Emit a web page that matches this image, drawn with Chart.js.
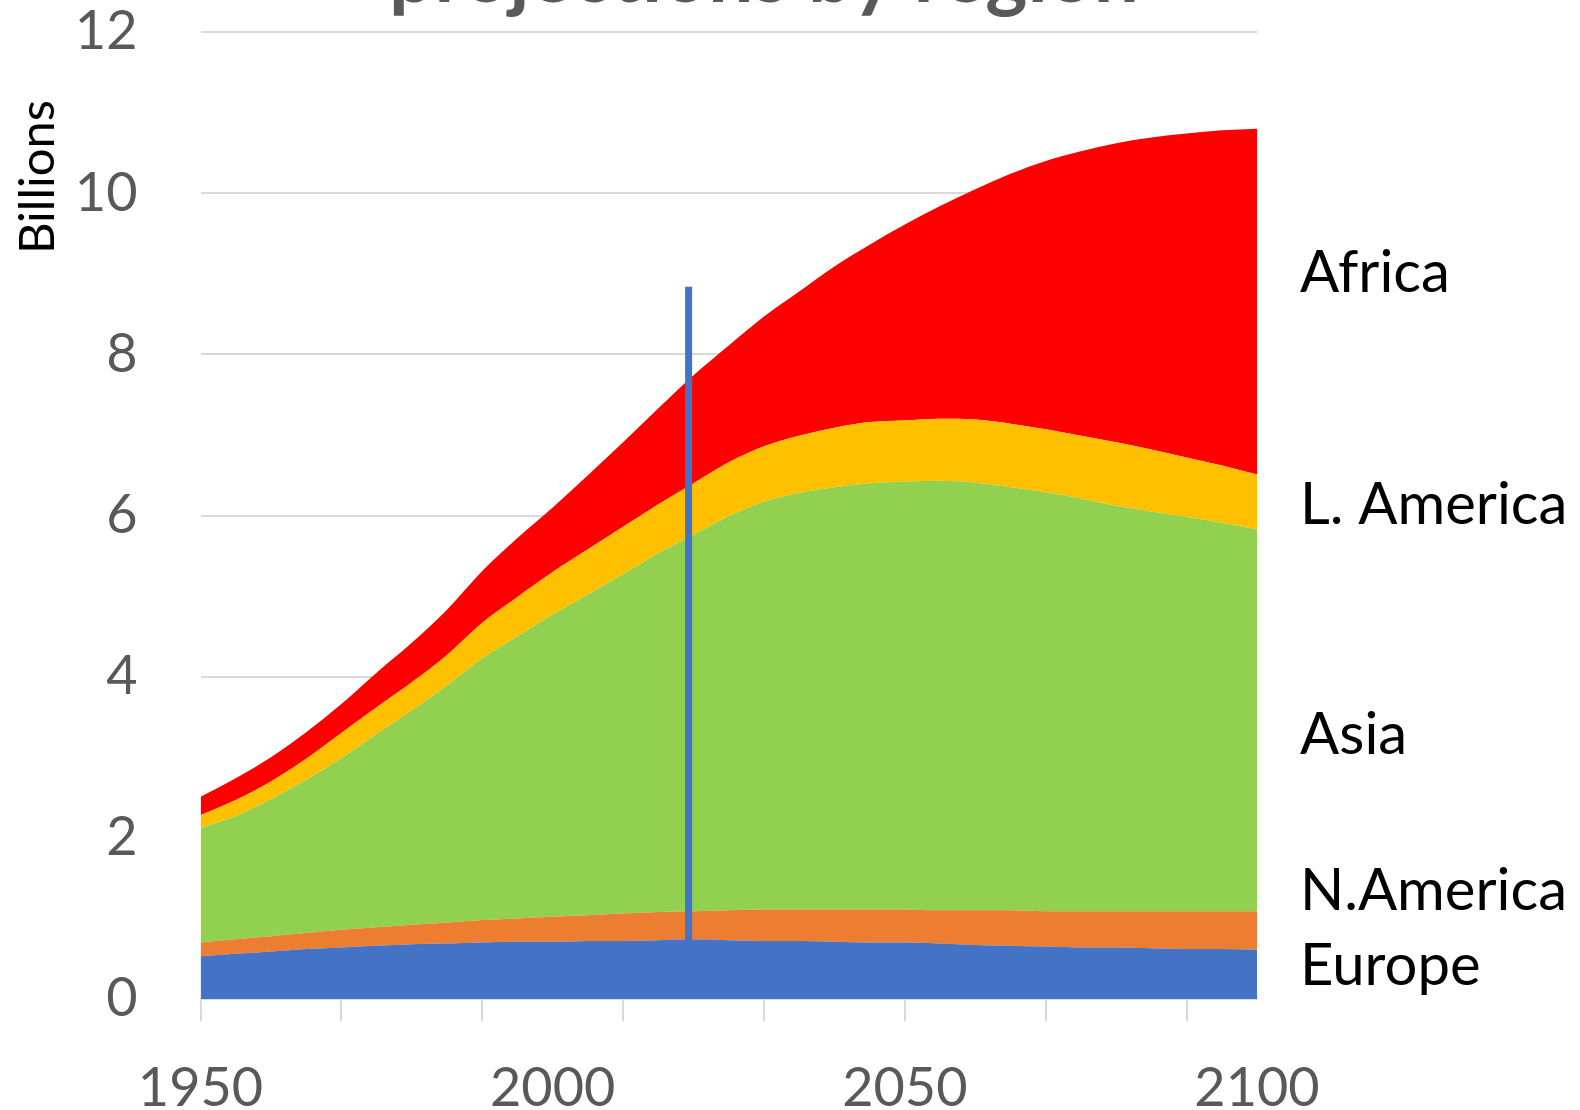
<!DOCTYPE html>
<html>
<head>
<meta charset="utf-8">
<title>Population projections by region</title>
<script src="https://cdn.jsdelivr.net/npm/chart.js@4.4.1/dist/chart.umd.min.js"></script>
<style>
  html, body { margin: 0; padding: 0; background: #fff; }
  #wrap { width: 1580px; height: 1110px; position: relative; overflow: hidden; }
</style>
</head>
<body>
<div id="wrap"><canvas id="chartCanvas" width="1580" height="1110"></canvas></div>
<script>
// --- data (billions) ---
const years = [1950, 1955, 1960, 1965, 1970, 1975, 1980, 1985, 1990, 1995,
               2000, 2005, 2010, 2015, 2020, 2025, 2030, 2035, 2040, 2045,
               2050, 2055, 2060, 2065, 2070, 2075, 2080, 2085, 2090, 2095, 2100];

const europe = [0.53, 0.56, 0.59, 0.62, 0.64, 0.66, 0.68, 0.69, 0.70, 0.71,
                0.71, 0.72, 0.72, 0.73, 0.74, 0.73, 0.72, 0.72, 0.71, 0.70,
                0.70, 0.69, 0.67, 0.66, 0.65, 0.64, 0.64, 0.63, 0.62, 0.62, 0.61];

const northAmerica = [0.17, 0.18, 0.19, 0.20, 0.22, 0.23, 0.24, 0.26, 0.28, 0.29,
                      0.31, 0.32, 0.34, 0.35, 0.35, 0.37, 0.39, 0.39, 0.40, 0.41,
                      0.41, 0.41, 0.43, 0.44, 0.44, 0.45, 0.45, 0.46, 0.47, 0.47, 0.48];

const asia = [1.42, 1.53, 1.70, 1.90, 2.13, 2.40, 2.66, 2.94, 3.25, 3.50,
              3.75, 3.98, 4.21, 4.45, 4.67, 4.89, 5.06, 5.17, 5.24, 5.29,
              5.31, 5.33, 5.31, 5.25, 5.20, 5.12, 5.03, 4.96, 4.89, 4.82, 4.74];

const latinAmerica = [0.16, 0.20, 0.22, 0.26, 0.31, 0.33, 0.35, 0.38, 0.44, 0.49,
                      0.53, 0.56, 0.59, 0.61, 0.64, 0.67, 0.69, 0.71, 0.74, 0.76,
                      0.76, 0.77, 0.78, 0.79, 0.78, 0.78, 0.79, 0.77, 0.74, 0.71, 0.68];

const africa = [0.23, 0.27, 0.30, 0.33, 0.36, 0.43, 0.49, 0.56, 0.64, 0.73,
                0.80, 0.92, 1.05, 1.19, 1.34, 1.45, 1.61, 1.79, 2.00, 2.20,
                2.43, 2.64, 2.86, 3.10, 3.33, 3.53, 3.71, 3.87, 4.02, 4.16, 4.29];

// "today" marker
const markerYear = 2019.3;
const markerRange = [0, 8.84];

const regionNames = ["Europe", "N.America", "Asia", "L. America", "Africa"];
const regionColors = ["#4472C4", "#ED7D31", "#92D050", "#FFC000", "#FF0000"];
const chartTitle = "projections by region";
const axisTitle = "Billions";

// --- helpers ---
const GREY = "#595959";
const GRID = "#d9d9d9";
const FONT = "Lato, 'Open Sans', sans-serif";

const series = [europe, northAmerica, asia, latinAmerica, africa];

const areaSets = series.map((vals, i) => ({
  label: regionNames[i],
  data: years.map((yr, j) => ({ x: yr, y: vals[j] })),
  backgroundColor: regionColors[i],
  borderColor: regionColors[i],
  borderWidth: 0,
  pointRadius: 0,
  fill: i === 0 ? "origin" : "-1",
  cubicInterpolationMode: "monotone",
  order: 1
}));

const markerSet = {
  label: "marker",
  data: markerRange.map(v => ({ x: markerYear, y: v })),
  borderColor: "#4472C4",
  borderWidth: 7,
  pointRadius: 0,
  fill: false,
  stack: "marker",
  order: 0
};

// labels beside the chart, plus title and axis title
const textPlugin = {
  id: "freeText",
  afterDraw(chart) {
    const ctx = chart.ctx;
    ctx.save();

    ctx.fillStyle = GREY;
    ctx.font = "bold 80px " + FONT;
    ctx.textAlign = "center";
    ctx.textBaseline = "alphabetic";
    ctx.fillText(chartTitle, 764, 2);

    ctx.fillStyle = "#000";
    ctx.font = "58px " + FONT;
    ctx.textAlign = "left";
    const rightLabels = [
      ["Africa", 292], ["L. America", 524], ["Asia", 754],
      ["N.America", 910], ["Europe", 985]
    ];
    rightLabels.forEach(([t, y]) => ctx.fillText(t, 1300, y));

    ctx.font = "49px " + FONT;
    ctx.translate(54, 177);
    ctx.rotate(-Math.PI / 2);
    ctx.textAlign = "center";
    ctx.fillText(axisTitle, 0, 0);

    ctx.restore();
  }
};

const canvas = document.getElementById("chartCanvas");

new Chart(canvas, {
  type: "line",
  data: { datasets: [...areaSets, markerSet] },
  plugins: [textPlugin],
  options: {
    responsive: false,
    animation: false,
    layout: { padding: { left: 0, right: 323, top: 32, bottom: 0 } },
    plugins: {
      legend: { display: false },
      tooltip: { enabled: false },
      title: { display: false }
    },
    scales: {
      x: {
        type: "linear",
        min: 1950,
        max: 2100,
        afterFit: s => { s.height = 111; },
        border: { display: true, color: GRID, width: 2 },
        grid: {
          drawOnChartArea: false,
          drawTicks: true,
          tickLength: 22,
          lineWidth: 2,
          color: c => ((c.tick.value - 1950) % 20 === 0 ? GRID : "rgba(0,0,0,0)")
        },
        ticks: {
          stepSize: 10,
          autoSkip: false,
          maxRotation: 0,
          minRotation: 0,
          padding: 35,
          color: GREY,
          font: { family: FONT, size: 54 },
          callback: v => (v % 50 === 0 ? String(v) : "")
        }
      },
      y: {
        stacked: true,
        min: 0,
        max: 12,
        afterFit: s => {
          s.width = 200.5;
          s.paddingTop = 0;
          s.paddingBottom = 0;
        },
        border: { display: false },
        grid: { color: GRID, lineWidth: 2, drawTicks: false },
        ticks: {
          stepSize: 2,
          padding: 63,
          color: GREY,
          font: { family: FONT, size: 54 }
        }
      }
    }
  }
});
</script>
</body>
</html>
